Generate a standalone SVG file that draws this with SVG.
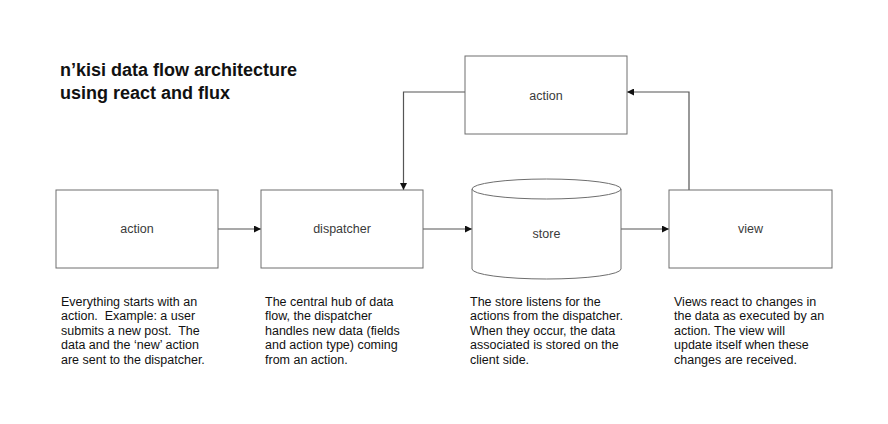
<svg xmlns="http://www.w3.org/2000/svg" width="888" height="424" viewBox="0 0 888 424">
<style>
.box{fill:#fff;stroke:#6e6e6e;stroke-width:1}
.lbl{font-family:"Liberation Sans",Arial,sans-serif;font-size:12.5px;fill:#3a3a3a;text-anchor:middle}
.desc{font-family:"Liberation Sans",Arial,sans-serif;font-size:12.5px;fill:#111;white-space:pre}
.title{font-family:"Liberation Sans",Arial,sans-serif;font-size:18px;font-weight:bold;fill:#111}
.con{fill:none;stroke:#555;stroke-width:1.2}
</style>
<defs>
<marker id="arr" viewBox="0 0 10 10" refX="10" refY="5" markerWidth="7" markerHeight="7" markerUnits="userSpaceOnUse" orient="auto">
<path d="M0,0 L10,5 L0,10 z" fill="#111"/>
</marker>
</defs>
<rect width="888" height="424" fill="#fff"/>
<g id="title">
<text class="title" x="60" y="76">n’kisi data flow architecture</text>
<text class="title" x="60" y="99">using react and flux</text>
</g>
<g id="connectors">
<path class="con" d="M218,229 H261" marker-end="url(#arr)"/>
<path class="con" d="M423,229 H472" marker-end="url(#arr)"/>
<path class="con" d="M621,229 H669" marker-end="url(#arr)"/>
<path class="con" d="M689,190 V92 H627" marker-end="url(#arr)"/>
<path class="con" d="M465,92 H403.5 V190" marker-end="url(#arr)"/>
</g>
<g id="node-action">
<rect class="box" x="56" y="190" width="162" height="78"/>
<text class="lbl" x="137" y="233">action</text>
</g>
<g id="node-dispatcher">
<rect class="box" x="261" y="190" width="162" height="78"/>
<text class="lbl" x="342" y="233">dispatcher</text>
</g>
<g id="node-action-top">
<rect class="box" x="465" y="56" width="162" height="78"/>
<text class="lbl" x="546" y="100">action</text>
</g>
<g id="node-store">
<path class="box" d="M472,189 V269 A74.5,10 0 0 0 621,269 V189 A74.5,10 0 0 0 472,189 Z"/>
<path class="box" style="fill:none" d="M472,189 A74.5,10 0 0 0 621,189"/>
<text class="lbl" x="546.5" y="238">store</text>
</g>
<g id="node-view">
<rect class="box" x="669" y="190" width="163" height="78"/>
<text class="lbl" x="750.5" y="233">view</text>
</g>
<g id="desc-action">
<text class="desc" x="61" y="306">Everything starts with an</text>
<text class="desc" x="61" y="320.4">action.  Example: a user</text>
<text class="desc" x="61" y="334.8">submits a new post.  The</text>
<text class="desc" x="61" y="349.2">data and the ‘new’ action</text>
<text class="desc" x="61" y="363.6">are sent to the dispatcher.</text>
</g>
<g id="desc-dispatcher">
<text class="desc" x="265" y="306">The central hub of data</text>
<text class="desc" x="265" y="320.4">flow, the dispatcher</text>
<text class="desc" x="265" y="334.8">handles new data (fields</text>
<text class="desc" x="265" y="349.2">and action type) coming</text>
<text class="desc" x="265" y="363.6">from an action.</text>
</g>
<g id="desc-store">
<text class="desc" x="470" y="306">The store listens for the</text>
<text class="desc" x="470" y="320.4">actions from the dispatcher.</text>
<text class="desc" x="470" y="334.8">When they occur, the data</text>
<text class="desc" x="470" y="349.2">associated is stored on the</text>
<text class="desc" x="470" y="363.6">client side.</text>
</g>
<g id="desc-view">
<text class="desc" x="674" y="306">Views react to changes in</text>
<text class="desc" x="674" y="320.4">the data as executed by an</text>
<text class="desc" x="674" y="334.8">action. The view will</text>
<text class="desc" x="674" y="349.2">update itself when these</text>
<text class="desc" x="674" y="363.6">changes are received.</text>
</g>
</svg>
